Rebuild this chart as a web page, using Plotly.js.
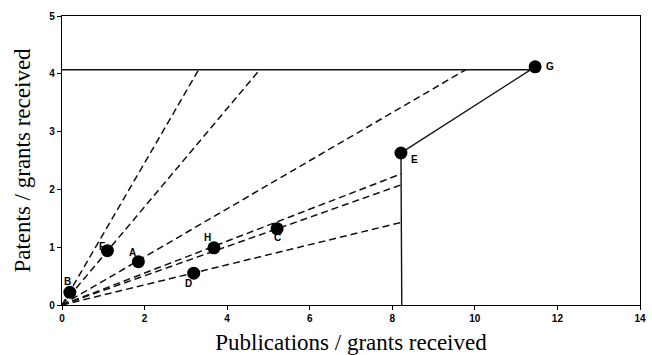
<!DOCTYPE html>
<html>
<head>
<meta charset="utf-8">
<script src="https://cdn.plot.ly/plotly-3.0.1.min.js"></script>
<style>html,body{margin:0;padding:0;background:#fff;}#chart{width:652px;height:355px;}</style>
</head>
<body>
<div id="chart"></div>
<script>
// Data
var pointLabels = ["B", "F", "A", "D", "H", "C", "E", "G"];
var pointX = [0.19, 1.10, 1.85, 3.19, 3.68, 5.21, 8.21, 11.46];
var pointY = [0.22, 0.94, 0.75, 0.55, 0.99, 1.32, 2.63, 4.12];

// Frontier: horizontal line to G, G -> E, E -> axis
var hLineX = [0, 11.46];
var hLineY = [4.07, 4.07];
var frontX = [11.46, 8.21, 8.23];
var frontY = [4.12, 2.63, 0];

// Dashed rays from the origin (end points)
var rayEndX = [3.31, 4.79, 9.78, 8.22, 8.22, 8.22];
var rayEndY = [4.07, 4.07, 4.07, 2.27, 2.08, 1.43];

var xTicks = [0, 2, 4, 6, 8, 10, 12, 14];
var yTicks = [0, 1, 2, 3, 4, 5];

// Label offsets (styling, pixels)
var labelShift = {
  B: [-2, 11], F: [-5, 4], A: [-6, 9], D: [-5, -10],
  H: [-6, 10], C: [0, -9], E: [14, -7], G: [15, 0]
};

var traces = [];
var rx = [], ry = [];
for (var i = 0; i < rayEndX.length; i++) {
  rx.push(0, rayEndX[i], null);
  ry.push(0, rayEndY[i], null);
}
traces.push({x: rx, y: ry, mode: 'lines', line: {color: '#111', width: 1.5, dash: '7px,4px'}, hoverinfo: 'skip'});
traces.push({x: hLineX, y: hLineY, mode: 'lines', line: {color: '#111', width: 1.4}, hoverinfo: 'skip'});
traces.push({x: frontX, y: frontY, mode: 'lines', line: {color: '#111', width: 1.4}, hoverinfo: 'skip'});
traces.push({x: pointX, y: pointY, mode: 'markers', marker: {color: '#000', size: 13}, hoverinfo: 'skip'});

var annotations = pointLabels.map(function (lab, i) {
  var s = labelShift[lab];
  return {x: pointX[i], y: pointY[i], text: lab, showarrow: false,
    xshift: s[0], yshift: s[1],
    font: {family: 'Liberation Sans, Arial, sans-serif', size: 10, color: '#000', weight: 'bold'}};
});

var tickFont = {family: 'Liberation Sans, Arial, sans-serif', size: 10, color: '#000', weight: 'bold'};
var layout = {
  width: 652, height: 355,
  margin: {l: 62, r: 12, t: 16, b: 50},
  paper_bgcolor: '#fff', plot_bgcolor: '#fff',
  showlegend: false,
  xaxis: {
    range: [0, 14], tickvals: xTicks, ticktext: xTicks.map(String),
    showgrid: false, zeroline: false, showline: true, mirror: true,
    linecolor: '#000', linewidth: 1.2, ticks: 'outside', ticklen: 4, tickcolor: '#000',
    tickfont: tickFont,
    title: {text: 'Publications / grants received', font: {family: 'Liberation Serif, Times New Roman, serif', size: 23, color: '#000'}, standoff: 10}
  },
  yaxis: {
    range: [0, 5], tickvals: yTicks, ticktext: yTicks.map(String),
    showgrid: false, zeroline: false, showline: true, mirror: true,
    linecolor: '#000', linewidth: 1.2, ticks: 'outside', ticklen: 4, tickcolor: '#000',
    tickfont: tickFont,
    title: {text: 'Patents / grants received', font: {family: 'Liberation Serif, Times New Roman, serif', size: 23, color: '#000'}, standoff: 12}
  },
  annotations: annotations
};

Plotly.newPlot('chart', traces, layout, {staticPlot: true, displayModeBar: false});
</script>
</body>
</html>
